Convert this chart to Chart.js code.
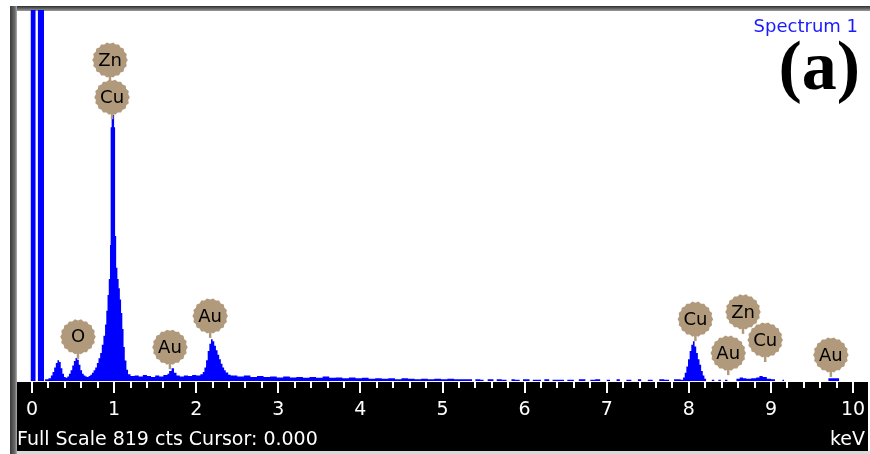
<!DOCTYPE html>
<html>
<head>
<meta charset="utf-8">
<script src="https://cdn.jsdelivr.net/npm/chart.js@4.4.1/dist/chart.umd.min.js"></script>
<style>
  html, body { margin: 0; padding: 0; background: #ffffff; }
  #wrap { width: 870px; height: 454px; }
</style>
</head>
<body>
<div id="wrap"><canvas id="eds" width="870" height="454"></canvas></div>
<script>
// EDS spectrum: energy (keV) where each channel run starts, and its counts
const energy = [
  -0.20, -0.015, 0.043, 0.072, 0.146, 0.16, 0.20, 0.23, 0.25, 0.27, 0.29, 0.31, 0.33, 0.35, 0.37, 0.39,
  0.41, 0.43, 0.45, 0.47, 0.49, 0.51, 0.53, 0.55, 0.57, 0.59, 0.61, 0.63, 0.65, 0.67, 0.69, 0.71,
  0.73, 0.75, 0.77, 0.79, 0.81, 0.83, 0.85, 0.87, 0.89, 0.905, 0.92, 0.935, 0.95, 0.958, 0.97, 0.985,
  1.00, 1.012, 1.025, 1.04, 1.055, 1.07, 1.085, 1.10, 1.115, 1.13, 1.15, 1.17, 1.20,
  1.25, 1.30, 1.35, 1.40, 1.45, 1.50, 1.55, 1.60, 1.65, 1.67, 1.70, 1.73, 1.76, 1.80, 1.85, 1.90,
  1.95, 2.00, 2.05, 2.08,
  2.10, 2.12, 2.14, 2.16, 2.18, 2.20, 2.22, 2.24, 2.26, 2.28, 2.30, 2.32, 2.34, 2.36, 2.39,
  2.42, 2.50, 2.58, 2.66, 2.74, 2.82, 2.90, 2.98, 3.06, 3.14, 3.22, 3.30, 3.38, 3.46, 3.54, 3.62,
  3.70, 3.78, 3.86, 3.94, 4.02, 4.10, 4.18, 4.26, 4.34, 4.42, 4.50, 4.58, 4.66, 4.74, 4.82, 4.90,
  4.98, 5.06, 5.14, 5.22, 5.30, 5.36, 5.40, 5.46, 5.50, 5.55, 5.62, 5.66, 5.72, 5.78, 5.84, 5.88,
  5.94, 5.98, 6.06, 6.10, 6.20, 6.24, 6.30, 6.34, 6.48, 6.52, 6.60, 6.66, 6.74, 6.80, 6.86, 6.92,
  7.00, 7.04, 7.12, 7.16, 7.24, 7.30, 7.38, 7.42, 7.50, 7.56, 7.64, 7.70, 7.76, 7.82, 7.90,
  7.93, 7.95, 7.97, 7.99, 8.01, 8.03, 8.05, 8.07, 8.09, 8.11, 8.13, 8.15, 8.17, 8.19, 8.21,
  8.28, 8.31, 8.36, 8.39, 8.44, 8.47, 8.58, 8.62, 8.66, 8.70, 8.76, 8.82, 8.86, 8.90, 8.95, 9.00,
  9.05, 9.14, 9.16, 9.70, 9.83, 10.30
];
const counts = [
  0, 3000, 0, 3000, 0, 4, 6, 12, 20, 30, 40, 46, 42, 28, 16, 9,
  7, 10, 16, 24, 34, 44, 51, 47, 36, 24, 16, 12, 10, 9, 11, 14,
  18, 24, 30, 40, 50, 62, 80, 100, 125, 155, 190, 225, 300, 560, 592, 588,
  560, 320, 250, 225, 205, 180, 150, 115, 75, 45, 25, 15, 11,
  12, 10, 13, 11, 9, 12, 10, 13, 16, 22, 28, 18, 12, 10, 12, 11,
  13, 12, 15, 20,
  30, 46, 66, 82, 92, 88, 78, 68, 58, 48, 38, 30, 24, 19, 14,
  12, 10, 12, 9, 11, 9, 10, 8, 10, 8, 9, 7, 9, 7, 10, 7,
  8, 6, 8, 6, 7, 5, 6, 5, 6, 4, 6, 5, 4, 5, 4, 5,
  4, 5, 4, 4, 4, 0, 4, 3, 0, 4, 0, 4, 3, 0, 4, 3,
  0, 4, 0, 3, 0, 4, 0, 3, 0, 3, 0, 4, 0, 3, 4, 0,
  3, 0, 4, 0, 3, 0, 4, 0, 3, 0, 4, 3, 0, 4, 3,
  8, 18, 32, 48, 66, 80, 88, 76, 62, 48, 36, 22, 12, 5, 0,
  3, 0, 3, 0, 3, 0, 5, 8, 6, 5, 6, 8, 11, 9, 5, 4,
  0, 3, 0, 6, 0, 0
];

// Element markers: symbol, energy of the stem, count level where the stem ends
const peakElements = ['Zn', 'Cu', 'O', 'Au', 'Au', 'Cu', 'Zn', 'Au', 'Cu', 'Au'];
const peakEnergies = [0.95, 0.975, 0.56, 1.68, 2.17, 8.08, 8.66, 8.48, 8.93, 9.73];
const peakLevels   = [660, 578, 49, 26, 95, 88, 104, 13, 42, 9];

// Axis ticks
const tickValues = [0, 1, 2, 3, 4, 5, 6, 7, 8, 9, 10];
const tickLabels = ['0', '1', '2', '3', '4', '5', '6', '7', '8', '9', '10'];
const minorStep = 0.2;

const fullScale = 819;
const spectrumName = 'Spectrum 1';
const panelTag = '(a)';
const statusText = 'Full Scale 819 cts Cursor: 0.000';
const unitText = 'keV';

const points = energy.map((e, i) => ({ x: e, y: counts[i] }));

const frame = {
  id: 'frame',
  beforeDraw(chart) {
    const c = chart.ctx;
    c.save();
    c.fillStyle = '#ffffff';
    c.fillRect(0, 0, chart.width, chart.height);
    // black axis strip under the plot
    c.fillStyle = '#000000';
    c.fillRect(16, 382, 852, 69);
    c.fillStyle = '#d9d9d9';
    c.fillRect(16, 451, 854, 3);
    // top border
    const g = c.createLinearGradient(0, 6, 0, 11);
    g.addColorStop(0, '#2e2e2e');
    g.addColorStop(1, '#9a9a9a');
    c.fillStyle = g;
    c.fillRect(10, 6, 860, 5);
    // left border
    const g2 = c.createLinearGradient(10, 0, 17, 0);
    g2.addColorStop(0, '#3a3a3a');
    g2.addColorStop(0.7, '#6a6a6a');
    g2.addColorStop(1, '#b0b0b0');
    c.fillStyle = g2;
    c.fillRect(10, 6, 7, 448);
    c.restore();
  },
  afterDraw(chart) {
    const c = chart.ctx;
    const xs = chart.scales.x, ys = chart.scales.y;
    c.save();

    // tick marks
    c.strokeStyle = '#ffffff';
    c.lineWidth = 2;
    const nMinor = Math.round((tickValues[tickValues.length - 1] - tickValues[0]) / minorStep);
    for (let i = 0; i <= nMinor; i++) {
      const v = tickValues[0] + i * minorStep;
      const major = i % 5 === 0;
      const px = Math.round(xs.getPixelForValue(v));
      c.beginPath();
      c.moveTo(px, 382);
      c.lineTo(px, 382 + (major ? 11 : 6));
      c.stroke();
    }
    // tick labels
    c.fillStyle = '#ffffff';
    c.font = '19px "DejaVu Sans"';
    c.textAlign = 'center';
    c.textBaseline = 'middle';
    tickValues.forEach((v, i) => {
      c.fillText(tickLabels[i], xs.getPixelForValue(v), 410);
    });
    // status line and unit
    c.textAlign = 'left';
    c.fillText(statusText, 17, 440);
    c.textAlign = 'right';
    c.fillText(unitText, 865, 440);

    // spectrum name and panel tag
    c.fillStyle = '#1a1aff';
    c.font = '18px "DejaVu Sans"';
    c.textAlign = 'right';
    c.fillText(spectrumName, 858, 27);
    c.fillStyle = '#000000';
    c.font = 'bold 70px "Liberation Serif"';
    c.textBaseline = 'alphabetic';
    c.fillText(panelTag, 860, 89);

    // element markers
    const tan = '#b19a7b';
    const r = 17;
    const marks = peakElements.map((el, i) => {
      const tx = xs.getPixelForValue(peakEnergies[i]);
      const ty = ys.getPixelForValue(peakLevels[i]);
      return { el, tx, ty, cx: tx, cy: ty - 22 };
    });
    c.strokeStyle = tan;
    c.lineWidth = 2.5;
    marks.forEach(m => {
      c.beginPath();
      c.moveTo(m.cx, m.cy);
      c.lineTo(m.tx, m.ty);
      c.stroke();
    });
    marks.forEach(m => {
      c.beginPath();
      const n = 36;
      for (let k = 0; k <= n; k++) {
        const a = (k / n) * Math.PI * 2;
        const rr = k % 2 === 0 ? r + 0.8 : r - 0.6;
        const x = m.cx + rr * Math.cos(a), y = m.cy + rr * Math.sin(a);
        if (k === 0) c.moveTo(x, y); else c.lineTo(x, y);
      }
      c.closePath();
      c.fillStyle = tan;
      c.fill();
    });
    c.fillStyle = '#000000';
    c.font = '18px "DejaVu Sans"';
    c.textAlign = 'center';
    c.textBaseline = 'middle';
    marks.forEach(m => c.fillText(m.el, m.cx, m.cy + 1));

    c.restore();
  }
};

new Chart(document.getElementById('eds'), {
  type: 'scatter',
  data: {
    datasets: [{
      data: points,
      showLine: true,
      stepped: 'before',
      fill: 'origin',
      backgroundColor: '#0000ff',
      borderColor: '#0000ff',
      borderWidth: 0,
      pointRadius: 0,
      pointHoverRadius: 0
    }]
  },
  options: {
    responsive: false,
    animation: false,
    devicePixelRatio: 1,
    layout: { padding: { left: 17, right: 4, top: 10, bottom: 73 } },
    scales: {
      x: { type: 'linear', min: -0.1827, max: 10.158, display: false },
      y: { type: 'linear', min: 0, max: fullScale, display: false }
    },
    plugins: { legend: { display: false }, tooltip: { enabled: false } },
    events: []
  },
  plugins: [frame]
});
</script>
</body>
</html>
